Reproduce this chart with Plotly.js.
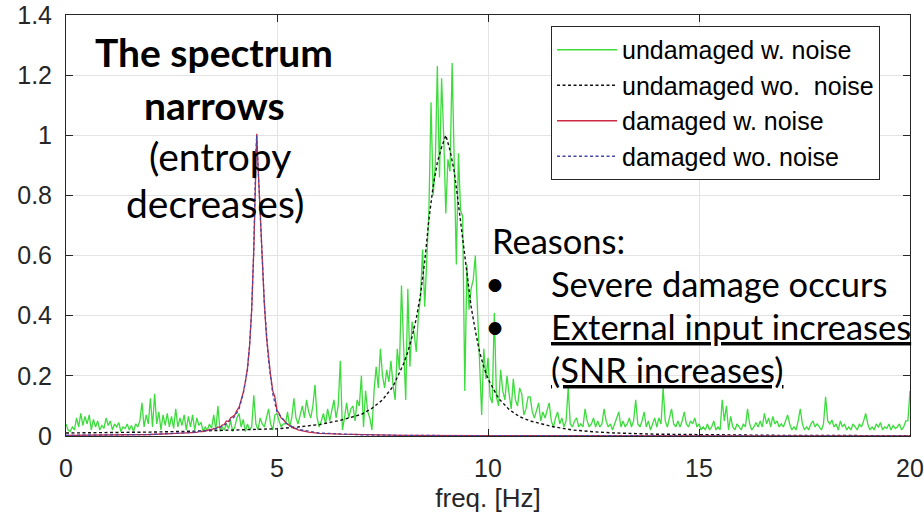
<!DOCTYPE html>
<html>
<head>
<meta charset="utf-8">
<script src="https://cdn.plot.ly/plotly-3.0.1.min.js"></script>
<style>html,body{margin:0;padding:0;background:#fff}#chart{width:924px;height:513px}</style>
</head>
<body>
<div id="chart"></div>
<script>
// ---- data ----
const freqStep = 0.05; // Hz, grid of the noisy undamaged spectrum
const undamagedNoisyAmp = [
// 0.00 - 0.95
0.04,0.02,0.015,0.03,0.02,0.06,0.03,0.075,0.035,0.065,0.04,0.07,0.02,0.055,0.03,0.05,0.02,0.035,0.025,0.06,
// 1.00 - 1.95
0.035,0.05,0.02,0.04,0.03,0.045,0.015,0.03,0.025,0.04,0.02,0.035,0.015,0.04,0.03,0.05,0.11,0.03,0.07,0.04,
// 2.00 - 2.95
0.125,0.03,0.14,0.04,0.08,0.02,0.07,0.035,0.075,0.03,0.065,0.025,0.09,0.03,0.06,0.035,0.07,0.02,0.065,0.03,
// 3.00 - 3.95
0.07,0.02,0.06,0.035,0.045,0.015,0.03,0.02,0.04,0.025,0.07,0.02,0.1,0.015,0.03,0.02,0.04,0.025,0.05,0.015,
// 4.00 - 4.95
0.03,0.06,0.075,0.03,0.055,0.015,0.04,0.02,0.03,0.135,0.04,0.02,0.06,0.04,0.03,0.06,0.09,0.04,0.02,0.07,
// 5.00 - 5.95
0.075,0.05,0.03,0.04,0.04,0.08,0.03,0.06,0.125,0.06,0.04,0.07,0.1,0.06,0.12,0.08,0.06,0.1,0.17,0.06,
// 6.00 - 6.95
0.03,0.05,0.075,0.04,0.09,0.05,0.09,0.12,0.06,0.1,0.25,0.02,0.06,0.11,0.06,0.09,0.1,0.05,0.12,0.1,
// 7.00 - 7.95
0.2,0.03,0.15,0.08,0.06,0.02,0.15,0.23,0.16,0.29,0.2,0.16,0.22,0.18,0.25,0.17,0.12,0.29,0.22,0.5,
// 8.00 - 8.95
0.3,0.12,0.49,0.23,0.38,0.34,0.28,0.4,0.46,0.62,0.43,0.6,0.75,1.11,0.8,0.9,1.23,0.86,1.19,1.0,
// 9.00 - 9.95
0.74,0.92,0.88,1.24,0.93,0.57,0.94,0.75,0.73,0.15,0.57,0.42,0.49,0.52,0.6,0.4,0.2,0.07,0.29,0.19,
// 10.00 - 10.95
0.26,0.13,0.11,0.41,0.13,0.1,0.22,0.15,0.12,0.2,0.14,0.09,0.19,0.12,0.1,0.16,0.14,0.07,0.09,0.13,
// 11.00 - 11.95
0.13,0.08,0.06,0.09,0.11,0.05,0.08,0.06,0.09,0.11,0.05,0.03,0.06,0.08,0.04,0.06,0.03,0.05,0.16,0.04,
// 12.00 - 12.95
0.03,0.05,0.06,0.03,0.04,0.03,0.09,0.05,0.03,0.04,0.06,0.03,0.05,0.03,0.04,0.09,0.05,0.03,0.04,0.02,
// 13.00 - 13.95
0.04,0.06,0.08,0.03,0.05,0.03,0.04,0.06,0.03,0.05,0.12,0.04,0.03,0.05,0.08,0.03,0.05,0.02,0.04,0.06,
// 14.00 - 14.95
0.03,0.06,0.04,0.16,0.05,0.03,0.06,0.09,0.04,0.03,0.05,0.03,0.05,0.08,0.04,0.03,0.05,0.04,0.06,0.03,
// 15.00 - 15.95
0.04,0.02,0.03,0.02,0.04,0.02,0.03,0.05,0.02,0.03,0.02,0.12,0.05,0.1,0.02,0.065,0.03,0.02,0.04,0.03,
// 16.00 - 16.95
0.02,0.04,0.03,0.09,0.04,0.02,0.03,0.045,0.03,0.05,0.03,0.075,0.04,0.06,0.03,0.065,0.04,0.05,0.03,0.04,
// 17.00 - 17.95
0.03,0.05,0.07,0.04,0.02,0.03,0.02,0.05,0.09,0.04,0.02,0.03,0.02,0.04,0.05,0.03,0.04,0.03,0.02,0.04,
// 18.00 - 18.95
0.13,0.05,0.04,0.053,0.03,0.04,0.02,0.05,0.03,0.04,0.02,0.03,0.02,0.04,0.03,0.02,0.04,0.03,0.05,0.075,
// 19.00 - 19.95
0.04,0.02,0.03,0.02,0.04,0.03,0.045,0.02,0.03,0.025,0.04,0.02,0.035,0.025,0.03,0.04,0.02,0.03,0.05,0.05,
// 20.00
0.15
];

const undamagedCleanFreq = [0,1,2,3,4,5,5.5,6,6.5,7,7.25,7.5,7.75,8,8.1,8.2,8.3,8.4,8.5,8.6,8.7,8.8,8.9,9.0,9.1,9.2,9.3,9.4,9.5,9.6,9.7,9.8,9.9,10,10.25,10.5,10.75,11,11.5,12,12.5,13,14,15,17,20];
const undamagedCleanAmp  = [0.01,0.011,0.013,0.016,0.021,0.024,0.03,0.038,0.052,0.072,0.092,0.12,0.165,0.24,0.28,0.33,0.39,0.47,0.58,0.72,0.83,0.91,0.96,1.0,0.95,0.88,0.77,0.65,0.53,0.43,0.35,0.28,0.23,0.19,0.125,0.088,0.064,0.05,0.032,0.02,0.014,0.01,0.006,0.004,0.002,0.001];

const damagedNoisyFreq = [0,1,2,2.5,3.0,3.05,3.1,3.15,3.2,3.25,3.3,3.35,3.4,3.45,3.5,3.55,3.6,3.65,3.7,3.75,3.8,3.85,3.9,3.95,4.0,4.05,4.1,4.15,4.2,4.25,4.3,4.35,4.4,4.45,4.5,4.52,4.55,4.6,4.65,4.7,4.75,4.8,4.85,4.9,4.95,5.0,5.05,5.1,5.15,5.2,5.25,5.3,5.35,5.4,5.45,5.5,5.55,5.6,5.65,5.7,5.75,5.8,5.85,5.9,5.95,6.0,6.5,7,8,10,15,20];
const damagedNoisyAmp  = [0.002,0.003,0.005,0.008,0.012,0.013,0.012,0.015,0.016,0.015,0.019,0.018,0.022,0.02,0.025,0.024,0.03,0.028,0.036,0.038,0.05,0.048,0.06,0.066,0.07,0.085,0.095,0.12,0.145,0.18,0.225,0.3,0.42,0.62,0.93,1.005,0.9,0.74,0.57,0.44,0.33,0.255,0.2,0.15,0.13,0.085,0.075,0.06,0.055,0.045,0.04,0.032,0.03,0.025,0.024,0.02,0.019,0.017,0.015,0.014,0.013,0.012,0.011,0.011,0.01,0.009,0.006,0.004,0.002,0.001,0.0005,0.0003];

const damagedCleanFreq = [0,1,2,3,3.5,3.75,4,4.1,4.2,4.3,4.35,4.4,4.45,4.5,4.52,4.55,4.6,4.65,4.7,4.8,4.9,5.0,5.25,5.5,6,7,8,10,15,20];
const damagedCleanAmp  = [0.002,0.003,0.005,0.012,0.022,0.035,0.065,0.09,0.14,0.22,0.3,0.42,0.62,0.95,1.0,0.9,0.75,0.58,0.44,0.25,0.14,0.08,0.038,0.022,0.01,0.004,0.002,0.001,0.0005,0.0003];

const seriesNames = ['undamaged w. noise','undamaged wo.\u00a0 noise','damaged w. noise','damaged wo. noise'];
const xTicks = [0,5,10,15,20];
const yTicks = [0,0.2,0.4,0.6,0.8,1,1.2,1.4];
const yTickLabels = ['0','0.2','0.4','0.6','0.8','1','1.2','1.4'];

const undamagedNoisyFreq = undamagedNoisyAmp.map((_, i) => +(i * freqStep).toFixed(2));

// ---- chart ----
const traces = [
  {x: undamagedNoisyFreq, y: undamagedNoisyAmp, name: seriesNames[0], type: 'scatter', mode: 'lines',
   line: {color: '#3cdc3c', width: 1.3}},
  {x: undamagedCleanFreq, y: undamagedCleanAmp, name: seriesNames[1], type: 'scatter', mode: 'lines',
   line: {color: '#111', width: 1.4, dash: '3px,2.5px'}},
  {x: damagedNoisyFreq, y: damagedNoisyAmp, name: seriesNames[2], type: 'scatter', mode: 'lines',
   line: {color: '#cc2a40', width: 1.3}},
  {x: damagedCleanFreq, y: damagedCleanAmp, name: seriesNames[3], type: 'scatter', mode: 'lines',
   line: {color: '#4646a8', width: 1.3, dash: '3px,2.5px'}}
];

const tickFont = {family: 'Liberation Sans, Arial, sans-serif', size: 25, color: '#262626'};
const titleFont = {family: 'Liberation Sans, Arial, sans-serif', size: 26, color: '#262626'};
const noteFont = {family: 'Lato, Calibri, sans-serif', size: 39, color: '#000'};
const reasonFont = {family: 'Lato, Calibri, sans-serif', size: 34.5, color: '#000'};

const annotations = [
  {text: '<b>The spectrum</b>', x: 3.51, y: 1.277, font: noteFont},
  {text: '<b>narrows</b>', x: 3.51, y: 1.101, font: noteFont},
  {text: '(entropy', x: 3.66, y: 0.931, font: noteFont},
  {text: 'decreases)', x: 3.53, y: 0.775, font: noteFont},
  {text: 'Reasons:', x: 10.05, y: 0.6485, xanchor: 'left', font: reasonFont},
  {text: '•', x: 10.17, y: 0.51, font: reasonFont},
  {text: 'Severe damage occurs', x: 11.445, y: 0.5055, xanchor: 'left', font: reasonFont},
  {text: '•', x: 10.17, y: 0.368, font: reasonFont},
  {text: '<u>External input increases</u>', x: 11.445, y: 0.364, xanchor: 'left', font: reasonFont},
  {text: '<u>(SNR increases)</u>', x: 11.445, y: 0.222, xanchor: 'left', font: reasonFont}
].map(a => Object.assign({xref: 'x', yref: 'y', showarrow: false, xanchor: 'center', yanchor: 'middle'}, a));

const layout = {
  width: 924, height: 513,
  margin: {l: 66, r: 14, t: 15, b: 77, pad: 0},
  paper_bgcolor: '#fff', plot_bgcolor: '#fff',
  showlegend: true,
  legend: {x: 0.9645, y: 0.9739, xanchor: 'right', yanchor: 'top', bgcolor: '#fff',
           bordercolor: '#262626', borderwidth: 1, itemwidth: 60,
           font: {family: 'Liberation Sans, Arial, sans-serif', size: 25, color: '#000'}},
  xaxis: {range: [0, 20], tickvals: xTicks, ticks: 'inside', ticklen: 7, tickcolor: '#262626',
          showline: true, linecolor: '#262626', linewidth: 1, mirror: 'ticks',
          showgrid: true, gridcolor: '#e3e3e3', zeroline: false, tickfont: tickFont,
          ticklabelstandoff: 10,
          title: {text: 'freq. [Hz]', font: titleFont, standoff: 7}},
  yaxis: {range: [0, 1.4], tickvals: yTicks, ticktext: yTickLabels, ticks: 'inside', ticklen: 7, tickcolor: '#262626',
          showline: true, linecolor: '#262626', linewidth: 1, mirror: 'ticks',
          showgrid: true, gridcolor: '#e3e3e3', zeroline: false, tickfont: tickFont,
          ticklabelstandoff: 8},
  annotations: annotations
};

Plotly.newPlot('chart', traces, layout, {displayModeBar: false, staticPlot: true});
</script>
</body>
</html>
